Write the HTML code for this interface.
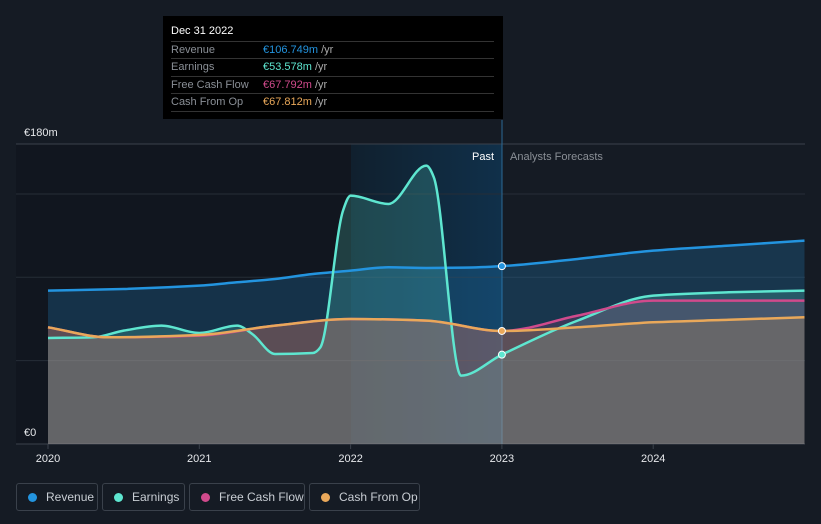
<!DOCTYPE html>
<html><head><meta charset="utf-8"><style>
body{margin:0;background:#151b24;font-family:"Liberation Sans",sans-serif;}
#wrap{position:relative;width:821px;height:524px;overflow:hidden;background:#151b24}
.tt{position:absolute;left:163px;top:16px;width:340px;height:103px;background:#000;color:#ddd;font-size:11px}
.tt .h{position:absolute;left:8px;top:9px;color:#fff;font-size:11px}
.tt .r{position:absolute;left:8px;width:323px;border-top:1px solid #333;height:17px;line-height:17px;color:#8a8f96}
.tt .r span.v{position:absolute;left:92px}
.tt .u{color:#aaa}
.leg{position:absolute;top:483px;height:28px;border:1px solid #3a414b;border-radius:3px;color:#c8cdd3;font-size:12px;line-height:26px;box-sizing:border-box;white-space:nowrap;overflow:hidden}
.leg i{display:inline-block;width:9px;height:9px;border-radius:50%;margin:0 9px 0 11px;vertical-align:-1px}
</style></head><body>
<div id="wrap">
<svg id="svg" width="821" height="524" style="position:absolute;left:0;top:0">
<defs>
<linearGradient id="pastg" x1="0" x2="1" y1="0" y2="0"><stop offset="0" stop-color="#10202e"/><stop offset="1" stop-color="#10304a"/></linearGradient>
</defs>
<rect x="16" y="144" width="335" height="300" fill="#11161f"/>
<rect x="351" y="144" width="151" height="300" fill="url(#pastg)"/>
<g id="grid"></g><g id="areas"></g><g id="lines"></g><g id="dots"></g><g id="axis"></g>
</svg>
<div class="tt">
<div class="h">Dec 31 2022</div>
<div class="r" style="top:25px">Revenue<span class="v"><span style="color:#2394df">€106.749m</span> <span class="u">/yr</span></span></div>
<div class="r" style="top:42px">Earnings<span class="v"><span style="color:#5ee6d0">€53.578m</span> <span class="u">/yr</span></span></div>
<div class="r" style="top:60px">Free Cash Flow<span class="v"><span style="color:#d04a8c">€67.792m</span> <span class="u">/yr</span></span></div>
<div class="r" style="top:77px;border-bottom:1px solid #333">Cash From Op<span class="v"><span style="color:#e9a85a">€67.812m</span> <span class="u">/yr</span></span></div>
</div>
<div class="leg" style="left:16px;width:82px"><i style="background:#2394df"></i>Revenue</div>
<div class="leg" style="left:102px;width:83px"><i style="background:#5ee6d0"></i>Earnings</div>
<div class="leg" style="left:189px;width:116px"><i style="background:#d04a8c"></i>Free Cash Flow</div>
<div class="leg" style="left:309px;width:111px"><i style="background:#e9a85a"></i>Cash From Op</div>
</div>
<script>
const revX=[2020,2020.5,2021,2021.25,2021.5,2021.75,2022,2022.25,2022.5,2022.75,2023,2023.5,2024,2024.5,2025];
const revenue=[92,93,95,97,99,102,104,106,105.6,105.8,106.7,111,116,119,122];
const earnX=[2020,2020.3,2020.5,2020.75,2021,2021.25,2021.35,2021.5,2021.75,2021.8,2021.95,2022,2022.25,2022.5,2022.55,2022.73,2023,2023.5,2024,2024.5,2025];
const earnings=[63.6,64,68,71,66.6,71,66,54,54.6,58,140,149,144,167,160,41,53.6,74,89,91,92];
const cfX=[2020,2020.4,2021,2021.5,2022,2022.5,2023,2023.5,2024,2024.5,2025];
const fcf=[70,64,65,71,75,74,67.8,77,86,86,86];
const cfo=[70,64,65.4,71,75,74,67.8,70,73,74.5,76];
const yTicks=[0,50,100,150,180];
const xTicks=[2020,2021,2022,2023,2024];
const X=t=>48+(t-2020)*151.3, Y=v=>444-v*1.667;
const NS='http://www.w3.org/2000/svg';
function mk(tag,attrs,parent){const e=document.createElementNS(NS,tag);for(const k in attrs)e.setAttribute(k,attrs[k]);document.getElementById(parent).appendChild(e);return e;}
function path(xs,vs){const x=xs.map(X),y=vs.map(Y),n=x.length;const d=[],m=[];
for(let i=0;i<n-1;i++)d.push((y[i+1]-y[i])/(x[i+1]-x[i]));
for(let i=0;i<n;i++){if(i===0)m.push(d[0]);else if(i===n-1)m.push(d[n-2]);else m.push(d[i-1]*d[i]<=0?0:2/(1/d[i-1]+1/d[i]));}
let s='M'+x[0]+','+y[0];
for(let i=0;i<n-1;i++){const h=(x[i+1]-x[i])/3;s+=' C'+(x[i]+h)+','+(y[i]+m[i]*h)+' '+(x[i+1]-h)+','+(y[i+1]-m[i+1]*h)+' '+x[i+1]+','+y[i+1];}
return s;}
yTicks.forEach(v=>{if(v===0)return;const g=mk('line',{x1:16,x2:805,y1:Y(v),y2:Y(v),stroke:v===180?'#3a414b':'#262d37','stroke-width':1},'grid');

});
mk('line',{x1:16,x2:805,y1:444,y2:444,stroke:'#3a414b'},'grid');
mk('line',{x1:502,x2:502,y1:120,y2:444,stroke:'#2b6a96','stroke-width':1},'grid');
const series=[[revX,revenue,'#2394df',0.22,'revenue'],[earnX,earnings,'#5ee6d0',0.2,'earnings'],[cfX,fcf,'#d04a8c',0.18,'free-cash-flow'],[cfX,cfo,'#e9a85a',0.2,'cash-from-op']];
series.forEach(([xs,vs,c,o,n])=>{const d=path(xs,vs);
const a=mk('path',{d:d+' L'+X(xs[xs.length-1])+',444 L'+X(xs[0])+',444 Z',fill:c,'fill-opacity':o},'areas');


const l=mk('path',{d:d,fill:'none',stroke:c,'stroke-width':2.5},'lines');

});
[[revenue[revX.indexOf(2023)],'#2394df'],[earnings[earnX.indexOf(2023)],'#5ee6d0'],[cfo[cfX.indexOf(2023)],'#e9a85a']].forEach(([v,c])=>{
const d=mk('circle',{cx:X(2023),cy:Y(v),r:3.5,fill:c,stroke:'#fff','stroke-width':1},'dots');

});
xTicks.forEach(t=>{const e=mk('text',{x:X(t),y:462,fill:'#e6e8eb','font-size':11,'text-anchor':'middle'},'axis');e.textContent=t;


mk('line',{x1:X(t),x2:X(t),y1:444,y2:449,stroke:'#3a414b'},'axis');});
[['€180m',24,136],['€0',24,436]].forEach(([s,x,y])=>{const e=mk('text',{x:x,y:y,fill:'#e6e8eb','font-size':11},'axis');e.textContent=s;

});
const p=mk('text',{x:494,y:160,fill:'#ffffff','font-size':11,'text-anchor':'end'},'axis');p.textContent='Past';


const f=mk('text',{x:510,y:160,fill:'#8a8f96','font-size':11},'axis');f.textContent='Analysts Forecasts';


</script>
</body></html>
